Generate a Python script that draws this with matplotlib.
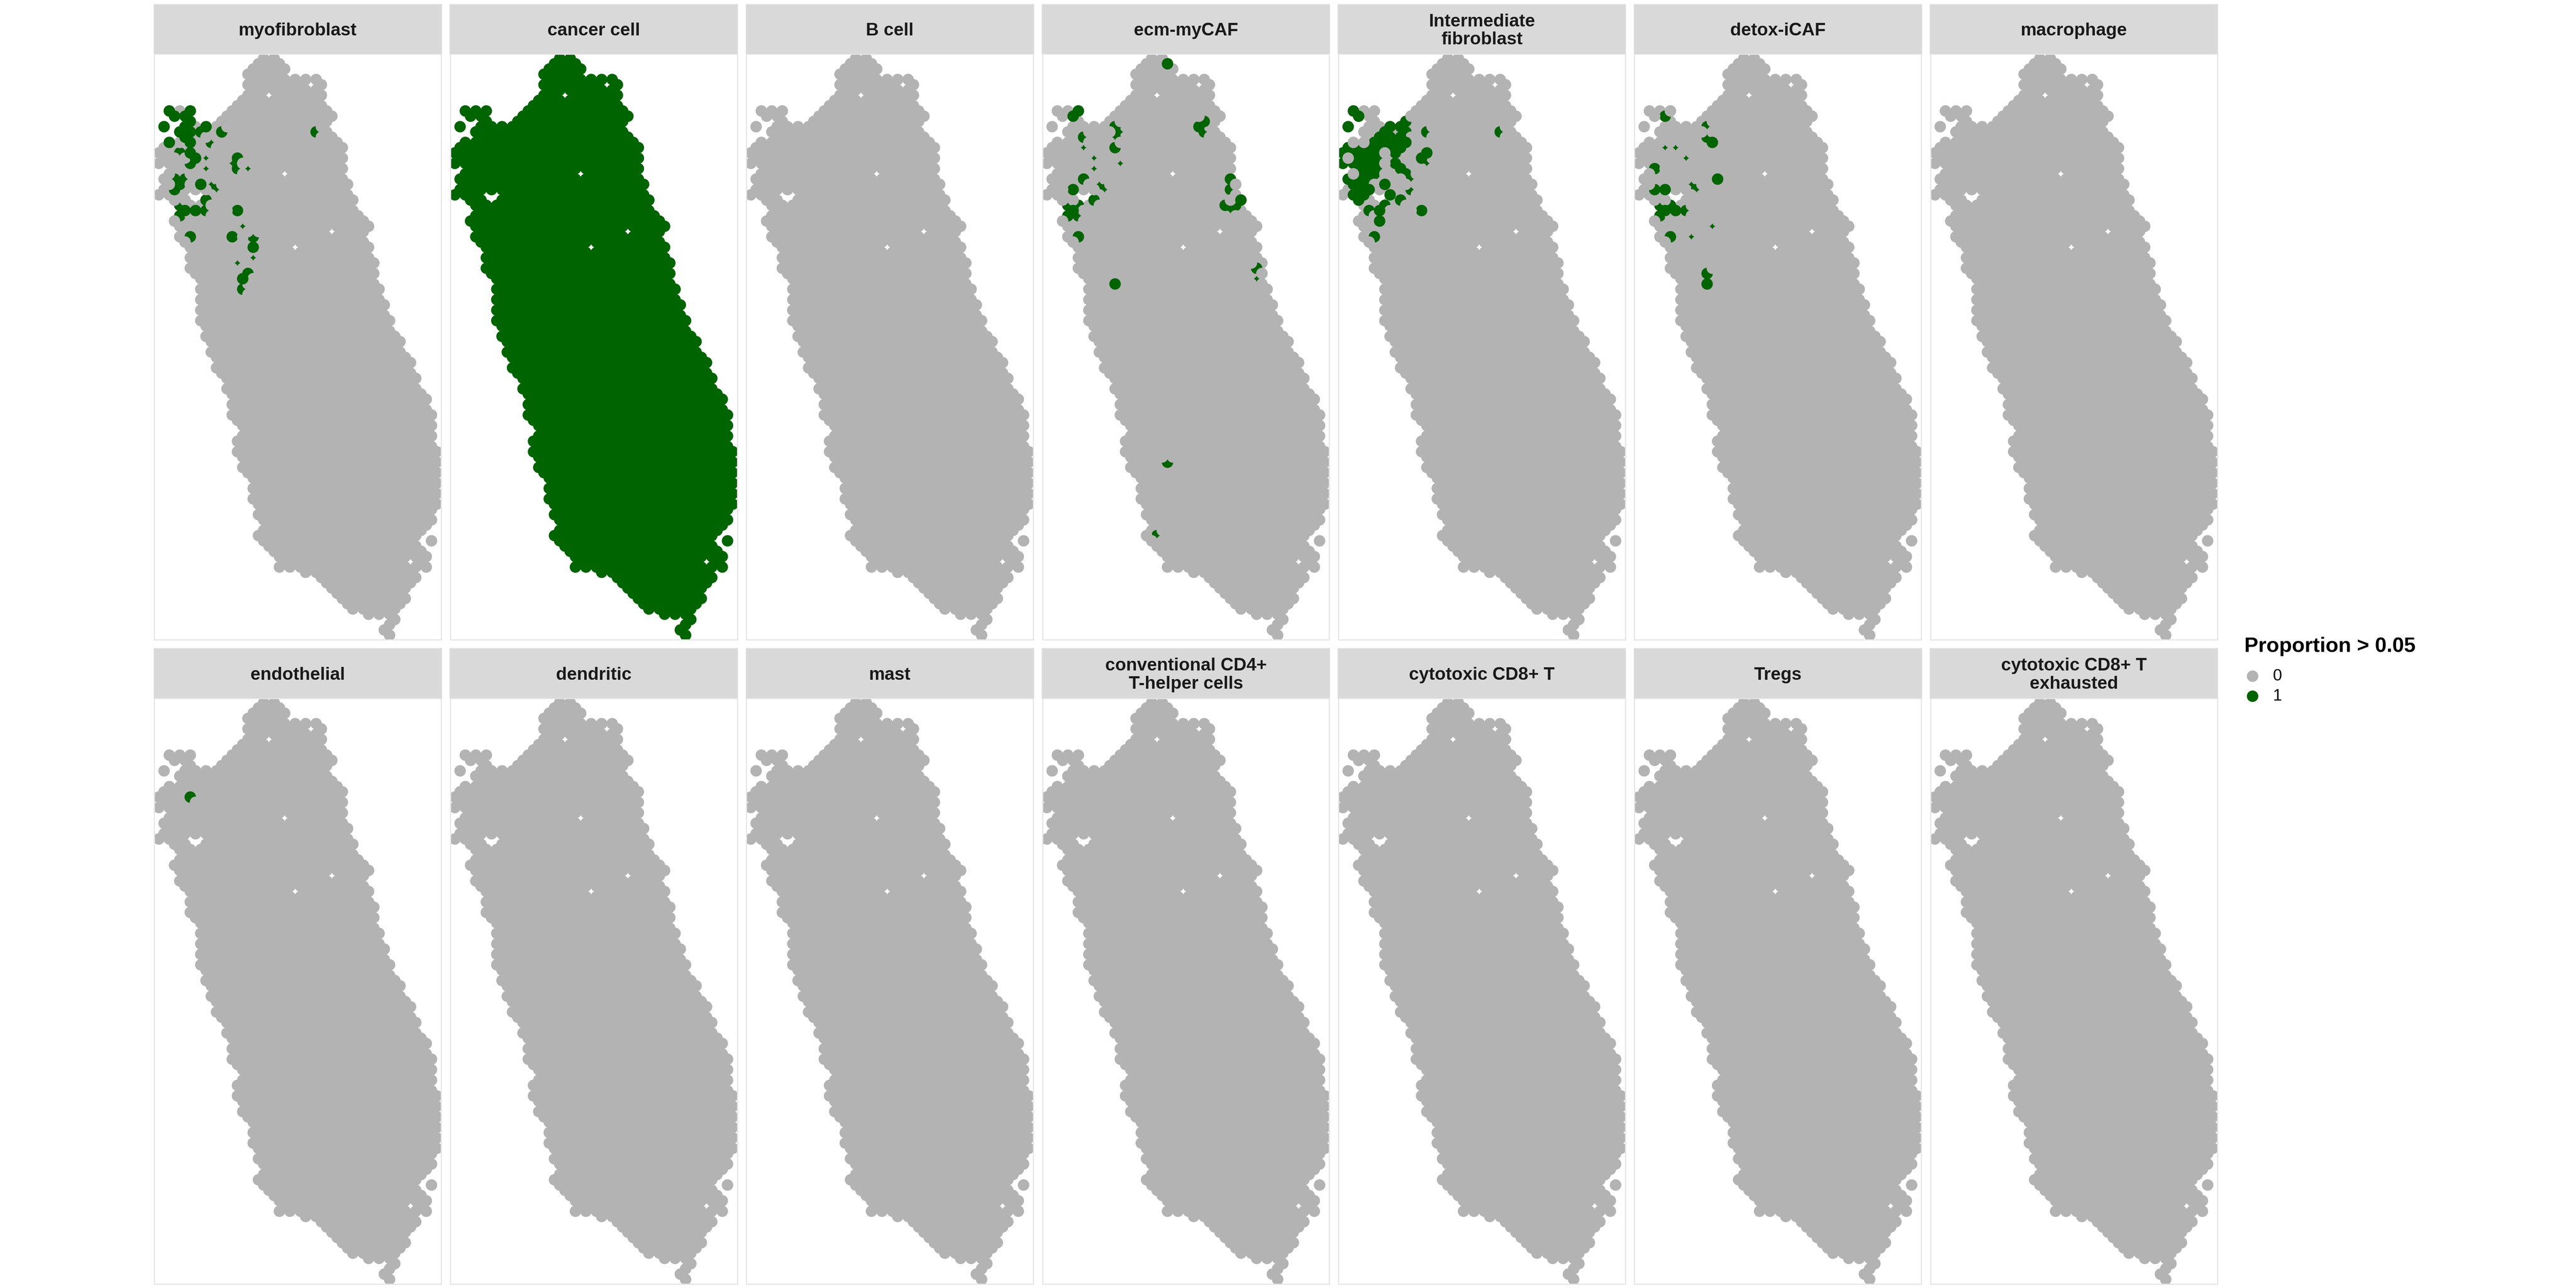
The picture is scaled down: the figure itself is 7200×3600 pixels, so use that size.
import matplotlib
matplotlib.use("Agg")
import matplotlib.pyplot as plt
from matplotlib.patches import Rectangle

plt.rcParams['font.family'] = ['Liberation Sans', 'DejaVu Sans']

GREY = '#B3B3B3'
GREEN = '#006400'

labels = ['myofibroblast', 'cancer cell', 'B cell', 'ecm-myCAF', 'Intermediate\nfibroblast',
          'detox-iCAF', 'macrophage', 'endothelial', 'dendritic', 'mast',
          'conventional CD4+\nT-helper cells', 'cytotoxic CD8+ T', 'Tregs',
          'cytotoxic CD8+ T\nexhausted']

# array columns of the tissue, one entry per array row 0..110
row_left = [20, 19, 18, 17, 18, 17, 18, 17, 16, 15, 14, 13, 12, 11, 4, 5, 2, 1, 0, 1, 0,
            3, 2, 1, 2, 1, 0, 3, 4, 5, 4, 3, 4, 5, 4, 5, 6, 7, 6, 7, 6,
            7, 8, 9, 8, 9, 8, 9, 8, 9, 8, 9, 10, 9, 10, 11, 10, 11, 12, 11, 12,
            13, 14, 13, 14, 15, 14, 15, 14, 15, 16, 17, 16, 15, 16, 15, 16, 17, 16, 17, 18,
            19, 18, 19, 18, 19, 20, 19, 20, 21, 20, 19, 20, 21, 22, 23, 24, 23, 28, 31, 32,
            33, 34, 35, 36, 37, 40, 45, 44, 43, 44]
row_right = [22, 23, 24, 23, 30, 31, 30, 31, 30, 31, 32, 33, 32, 31, 32, 33, 34, 35, 34, 35, 34,
             35, 34, 35, 36, 35, 36, 37, 36, 37, 38, 39, 40, 39, 38, 39, 40, 39, 40, 41, 40,
             41, 40, 41, 42, 41, 42, 43, 42, 43, 44, 43, 44, 45, 46, 45, 46, 47, 48, 47, 48,
             49, 48, 49, 50, 51, 50, 51, 52, 51, 52, 51, 52, 51, 52, 53, 52, 53, 52, 53, 52,
             53, 52, 53, 52, 53, 52, 51, 52, 51, 50, 49, 48, 49, 50, 51, 50, 51, 48, 49, 48,
             47, 46, 47, 46, 45, 44, 45, 44, 43, 44]
extra_spots = [(2, 10), (4, 10), (6, 10), (3, 11), (5, 11), (6, 12), (1, 13), (5, 13), (7, 13),
               (9, 13), (52, 92)]
missing_spots = [(21, 7), (29, 5), (24, 22), (33, 33), (26, 36), (48, 96), (7, 27), (6, 26), (8, 26)]

STAR = 'NE NW SE SW'
# spots over the threshold: column, row, neighbours that were drawn later and hide it
myofibroblast = [(3, 11, ''), (2, 10, ''), (5, 11, ''), (6, 10, ''), (6, 12, ''), (1, 13, ''),
                 (9, 13, ''), (5, 13, ''), (4, 14, ''), (6, 14, ''), (8, 14, 'SE'), (5, 15, ''),
                 (6, 16, ''), (2, 16, ''), (13, 13, 'NE SE SW'), (12, 14, 'NE'), (30, 14, 'NE SE'),
                 (10, 16, 'NE SE N'), (4, 18, 'N SW SE'), (6, 18, ''), (6, 20, 'NW'), (7, 19, ''),
                 (9, 19, STAR), (9, 21, STAR), (14, 20, STAR), (15, 19, 'SE'), (15, 21, 'SE NE'),
                 (17, 21, 'NE SE NW'), (3, 23, 'SW NW'), (5, 23, 'NE SE'), (4, 24, 'NW SW E'),
                 (3, 25, 'NW'), (8, 24, ''), (10, 24, 'NE NW SW'), (11, 25, 'NE SE SW'),
                 (9, 27, 'SE N'), (4, 28, 'NW NE'), (5, 29, ''), (4, 30, 'SW E'), (7, 29, ''),
                 (9, 29, 'NE SE'), (15, 29, 'W'), (16, 32, STAR), (6, 34, 'SW'), (14, 34, 'E'),
                 (18, 34, 'NE NW'), (18, 36, ''), (18, 38, STAR), (15, 39, STAR), (17, 41, 'SE'),
                 (16, 42, ''), (16, 44, 'NE SE')]
ecm_mycaf = [(23, 1, ''), (5, 11, ''), (6, 10, ''), (7, 15, 'NE SE'), (7, 17, STAR), (9, 19, STAR),
             (9, 21, STAR), (14, 20, STAR), (13, 13, 'NE SW'), (14, 14, 'NE SE S'),
             (13, 15, 'NW SE SW'), (13, 17, 'NE'), (30, 14, 'NE SE'), (29, 13, 'N'),
             (30, 12, 'NW'), (7, 23, 'SE'), (5, 25, 'W'), (10, 24, 'NE NW SW'),
             (11, 25, 'NE SE SW'), (9, 27, 'SE N'), (4, 28, 'NW NE'), (6, 28, 'NW SE'),
             (4, 30, 'SW'), (6, 30, 'NE SE'), (5, 29, ''), (6, 34, 'SW'), (13, 43, ''),
             (35, 23, 'SE'), (35, 25, 'NE SE'), (36, 28, 'NW E'), (35, 29, 'SW SE'),
             (34, 28, 'NE'), (37, 27, ''), (40, 40, 'NW SE'), (40, 42, STAR),
             (23, 77, 'NW NE'), (21, 91, 'NE SW SE W')]
intermediate = [(2, 10, ''), (3, 11, ''), (1, 13, ''), (13, 11, 'NE SE E'), (12, 12, 'NE'),
                (12, 14, 'SE'), (8, 14, 'SE'), (7, 15, ''), (9, 15, ''), (11, 15, ''),
                (6, 16, ''), (8, 16, ''), (10, 16, ''), (12, 16, ''), (1, 17, ''), (3, 17, ''),
                (5, 17, ''), (7, 17, ''), (9, 17, ''), (11, 17, ''), (9, 13, ''), (11, 13, ''),
                (0, 18, ''), (2, 18, ''), (4, 18, ''), (6, 18, ''), (10, 18, ''), (3, 19, ''),
                (5, 19, ''), (7, 19, ''), (0, 20, ''), (2, 20, ''), (4, 20, ''), (6, 20, ''),
                (10, 20, ''), (3, 21, ''), (5, 21, ''), (7, 21, ''), (11, 21, ''), (4, 22, ''),
                (6, 22, ''), (12, 22, 'SW'), (1, 23, ''), (3, 23, ''), (5, 23, ''),
                (13, 23, 'NE SE'), (2, 24, ''), (4, 24, ''), (12, 24, 'NW W'), (3, 25, ''),
                (13, 25, 'NE SE NW'), (2, 26, ''), (4, 26, ''), (3, 27, ''),
                (2, 16, 'gray'), (4, 16, 'gray'), (1, 19, 'gray'), (8, 18, 'gray'), (8, 20, 'gray'),
                (2, 22, 'gray'), (8, 22, 'gray'), (6, 24, 'gray'), (5, 25, ''), (8, 24, ''),
                (9, 26, ''), (11, 27, 'SE'), (8, 28, 'SE'), (5, 29, 'SE'), (7, 29, ''), (7, 31, ''),
                (6, 34, 'SW'), (16, 14, 'NE SE'), (16, 20, 'NE SE SW'), (15, 19, ''), (16, 18, ''),
                (15, 29, 'W'), (30, 14, 'NE SE')]
detox_icaf = [(5, 11, 'NE W'), (13, 13, 'NE SE SW'), (13, 15, 'NW NE'), (14, 16, ''), (5, 17, STAR),
              (7, 17, STAR), (9, 19, STAR), (3, 21, 'SW E'), (15, 23, ''), (3, 25, 'NW'), (5, 25, ''),
              (10, 24, 'NE NW SW'), (11, 25, 'NE SE SW'), (4, 28, 'NW NE'), (6, 28, 'NW'), (5, 29, ''),
              (4, 30, 'SW E'), (7, 29, ''), (9, 29, 'NE SE'), (14, 32, STAR), (10, 34, STAR),
              (6, 34, 'SW'), (13, 41, 'NE'), (13, 43, '')]
endothelial = [(6, 18, 'SE')]
hits = {'myofibroblast': myofibroblast, 'ecm-myCAF': ecm_mycaf,
        'Intermediate\nfibroblast': intermediate, 'detox-iCAF': detox_icaf,
        'endothelial': endothelial}
NEIGHBOURS = {'NE': (1, -1), 'NW': (-1, -1), 'SE': (1, 1), 'SW': (-1, 1),
              'N': (0, -2), 'S': (0, 2), 'E': (2, 0), 'W': (-2, 0)}

spots = []
for r in range(len(row_left)):
    for c in range(row_left[r], row_right[r] + 1, 2):
        if (c, r) not in missing_spots:
            spots.append((c, r))
spots = spots + [s for s in extra_spots if s not in spots]
spot_set = set(spots)

W, H = 7200., 3600.
fig = plt.figure(figsize=(24, 12), dpi=300)
overlay = fig.add_axes([0, 0, 1, 1], zorder=5)
overlay.set_xlim(0, W)
overlay.set_ylim(H, 0)
overlay.axis('off')

panel_w, panel_h = 802., 1637.
for i, label in enumerate(labels):
    col, row = i % 7, i // 7
    left = 431.3 + 827.4 * col
    top = 151. + 1800.5 * row
    ax = fig.add_axes([left / W, 1 - (top + panel_h) / H, panel_w / W, panel_h / H])

    base = GREEN if label == 'cancer cell' else GREY
    xs = [s[0] for s in spots]
    ys = [s[1] for s in spots]
    cs = [base] * len(spots)
    entries = hits.get(label, [])
    # most hidden spots go first so a later neighbour does not cut a whole one
    if label != 'Intermediate\nfibroblast':
        entries = sorted(entries, key=lambda e: -len(e[2].split()))
    for c, r, cover in entries:
        if cover == 'gray':
            xs.append(c); ys.append(r); cs.append(GREY)
            continue
        xs.append(c); ys.append(r); cs.append(GREEN)
        for d in cover.split():
            n = (c + NEIGHBOURS[d][0], r + NEIGHBOURS[d][1])
            if n in spot_set:
                xs.append(n[0]); ys.append(n[1]); cs.append(GREY)
    ax.scatter(xs, ys, c=cs, s=59, linewidths=0)
    ax.set_xlim(-0.86, 53.86)
    ax.set_ylim(110.86, -0.86)
    ax.set_xticks([])
    ax.set_yticks([])
    for side in ax.spines.values():
        side.set_color('#E5E5E5')
        side.set_linewidth(0.75)

    strip = Rectangle((left - 1.5, top - 139.5), panel_w + 3, 139.5, facecolor='#D9D9D9',
                      edgecolor='#E5E5E5', linewidth=0.4)
    overlay.add_patch(strip)
    overlay.text(left + panel_w / 2, top - 65, label, ha='center', va='center', fontsize=12,
                 fontweight='bold', color='#1A1A1A', linespacing=1.12)

overlay.text(6273, 1822, 'Proportion > 0.05', fontsize=14, fontweight='bold', color='black',
             ha='left', va='baseline')
overlay.scatter([6296, 6296], [1890, 1946], c=[GREY, GREEN], s=59, linewidths=0)
overlay.text(6352, 1890, '0', fontsize=11, color='black', ha='left', va='center')
overlay.text(6352, 1946, '1', fontsize=11, color='black', ha='left', va='center')

fig.savefig('out.png', dpi=300)
